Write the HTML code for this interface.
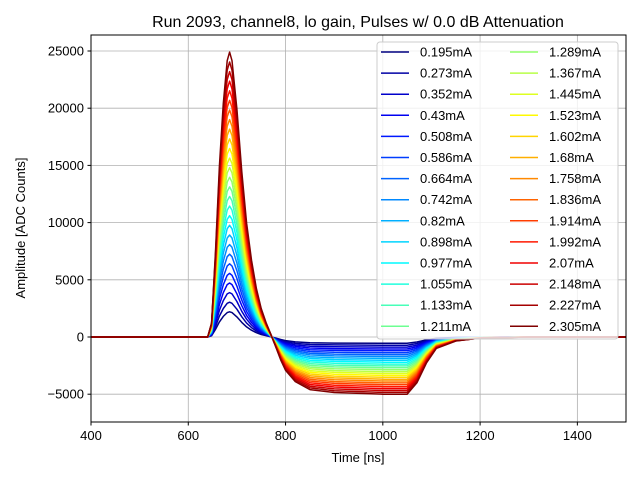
<!DOCTYPE html>
<html><head><meta charset="utf-8"><style>
body{margin:0;background:#fff}
svg{font-family:"Liberation Sans","DejaVu Sans",sans-serif}
</style></head><body>
<svg id="chart" width="640" height="480" viewBox="0 0 640 480" xmlns="http://www.w3.org/2000/svg">
<rect width="640" height="480" fill="#fff"/>
<text x="358" y="27" font-size="16" text-anchor="middle">Run 2093, channel8, lo gain, Pulses w/ 0.0 dB Attenuation</text>
<g id="grid"></g>
<g id="series" clip-path="url(#clip)"></g>
<defs><clipPath id="clip"><rect x="91" y="35" width="535" height="387"/></clipPath></defs>
<rect x="91" y="35" width="535" height="387" fill="none" stroke="#000" stroke-width="1"/>
<g id="ticks"></g>
<text x="358" y="462" font-size="13" text-anchor="middle">Time [ns]</text>
<text transform="translate(25,228) rotate(-90)" font-size="13" text-anchor="middle">Amplitude [ADC Counts]</text>
<g id="legend"></g>
</svg>
<script>
const currents=["0.195","0.273","0.352","0.43","0.508","0.586","0.664","0.742","0.82","0.898","0.977","1.055","1.133","1.211","1.289","1.367","1.445","1.523","1.602","1.68","1.758","1.836","1.914","1.992","2.07","2.148","2.227","2.305"];
const peaks=[2200,3040,3880,4720,5560,6400,7240,8080,8920,9760,10600,11440,12280,13120,13960,14800,15640,16480,17320,18160,19000,19840,20680,21520,22360,23200,24040,24900];
const unders=[-550,-715,-880,-1045,-1210,-1375,-1540,-1705,-1870,-2035,-2200,-2365,-2530,-2695,-2860,-3025,-3190,-3355,-3520,-3685,-3850,-4015,-4180,-4345,-4510,-4675,-4840,-5000];
const times=[400,640,648,656,664,672,680,685,690,700,710,720,730,740,750,760,770,780,790,800,820,850,900,1000,1050,1070,1090,1110,1150,1200,1300,1500];
const posShape=[0,0,0.05,0.3,0.6,0.82,0.97,1,0.97,0.8,0.58,0.4,0.27,0.17,0.1,0.05,0.02,0.005,0,0,0,0,0,0,0,0,0,0,0,0,0,0];
const negShape=[0,0,0,0,0,0,0,0,0,0,0,0,0,0,0,0,0.06,0.2,0.4,0.58,0.78,0.92,0.97,1,1,0.8,0.45,0.2,0.07,0.02,0,0];
const xTicks=[400,600,800,1000,1200,1400];
const yTicks=[-5000,0,5000,10000,15000,20000,25000];
const X=t=>91+(t-400)*535/1100;
const Y=v=>337-v*57.2/5000;
const NS="http://www.w3.org/2000/svg";
function mk(tag,attrs,parent){const e=document.createElementNS(NS,tag);for(const k in attrs)e.setAttribute(k,attrs[k]);parent.appendChild(e);return e;}
function jet(x){const c=v=>Math.round(255*Math.max(0,Math.min(1,v)));
return `rgb(${c(1.5-Math.abs(4*x-3))},${c(1.5-Math.abs(4*x-2))},${c(1.5-Math.abs(4*x-1))})`;}
const grid=document.getElementById('grid'),ticks=document.getElementById('ticks');
xTicks.forEach(t=>{
 const g=mk('line',{x1:X(t),x2:X(t),y1:35,y2:422,stroke:'#b0b0b0','stroke-width':0.8},grid);
 
 mk('line',{x1:X(t),x2:X(t),y1:422,y2:425.5,stroke:'#000'},ticks);
 const tx=mk('text',{x:X(t),y:440,'font-size':13,'text-anchor':'middle'},ticks);tx.textContent=t;
 
});
yTicks.forEach(v=>{
 const g=mk('line',{x1:91,x2:626,y1:Y(v),y2:Y(v),stroke:'#b0b0b0','stroke-width':0.8},grid);
 
 mk('line',{x1:87.5,x2:91,y1:Y(v),y2:Y(v),stroke:'#000'},ticks);
 const tx=mk('text',{x:84,y:Y(v)+4.5,'font-size':13,'text-anchor':'end'},ticks);tx.textContent=v===0?'0':(v<0?'\u2212'+(-v):v);
 
});
const ser=document.getElementById('series'),leg=document.getElementById('legend');
const lb=mk('rect',{x:377,y:42,width:241,height:297,rx:3,fill:'#fff','fill-opacity':0.8,stroke:'#ccc'},leg);

const n=currents.length;
currents.forEach((c,i)=>{
 const col=jet(i/(n-1));
 const d=times.map((t,k)=>(k?'L':'M')+X(t).toFixed(1)+','+Y(peaks[i]*posShape[k]+unders[i]*negShape[k]).toFixed(1)).join('');
 const p=mk('path',{d:d,fill:'none',stroke:col,'stroke-width':1.5,'stroke-linejoin':'round'},ser);
 
 const colIdx=i<14?0:1,row=i<14?i:i-14;
 const lx=colIdx?510:381,ly=52+row*21.1;
 const g=mk('g',{},leg);
 
 mk('line',{x1:lx,x2:lx+28,y1:ly,y2:ly,stroke:col,'stroke-width':1.5},g);
 const t=mk('text',{x:lx+39,y:ly+4.5,'font-size':13},g);t.textContent=c+'mA';
});
</script>
</body></html>
